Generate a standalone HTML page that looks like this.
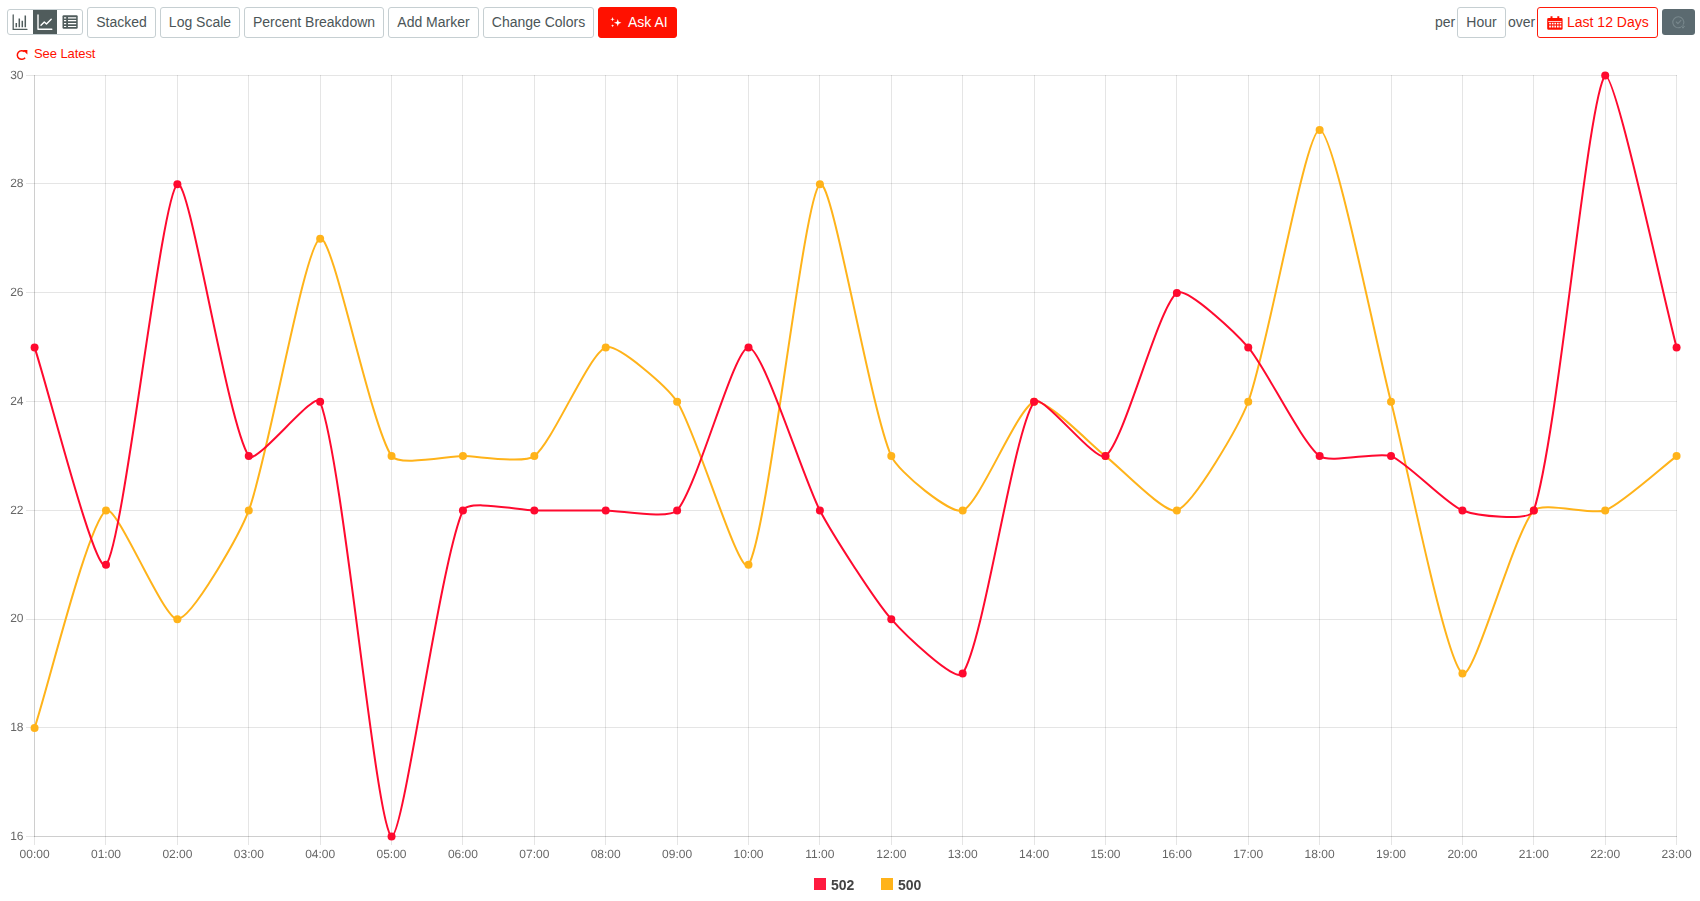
<!DOCTYPE html>
<html><head><meta charset="utf-8"><title>Chart</title>
<style>
*{box-sizing:border-box;margin:0;padding:0}
html,body{width:1700px;height:901px;overflow:hidden;background:#fff}
body{font-family:"Liberation Sans",sans-serif;position:relative;color:#4b5557}
.btn{position:absolute;top:7px;height:31px;border:1px solid #c6cfd2;border-radius:3px;background:#fff;font-size:14px;line-height:29px;text-align:center;color:#4b5557;white-space:nowrap}
.btn span{display:inline-block}
.grp{position:absolute;left:7px;top:9px;width:76px;height:26px;border:1px solid #c6cfd2;border-radius:3px;background:#fff;overflow:hidden}
.grp .act{position:absolute;left:25px;top:-1px;width:24px;height:26px;background:#505c5c}
.grp svg{position:absolute;top:0;left:0}
.ask{background:#ff1100;border-color:#ff1100;color:#fff}
.last{border-color:#ff1a0a;color:#ff1100}
.txt{position:absolute;top:7px;line-height:31px;font-size:14px;color:#4b5557}
.gray{position:absolute;left:1662px;top:9px;width:33px;height:26px;border-radius:3px;background:#5b6a70}
.see{position:absolute;left:34px;top:46px;font-size:13px;line-height:16px;color:#ff1100;white-space:nowrap;letter-spacing:-0.08px}
.chart{position:absolute;left:0;top:60px;will-change:transform}
.leg{position:absolute;top:877px;font-size:14px;font-weight:bold;line-height:17px;color:#444}
.sw{position:absolute;top:878px;width:12px;height:12px}
</style></head><body>
<div class="grp"><div class="act"></div>
<svg width="76" height="26" viewBox="0 0 76 26" fill="none">
<g stroke="#505c5c" stroke-width="1.3" stroke-linecap="round"><path d="M5.200 5v14.300h13.800"/></g><g stroke="#505c5c" stroke-width="1.500" stroke-linecap="butt"><path d="M8.300 17.300v-4.200M11.300 17.300V8.500M14.300 17.300v-6.500M17.300 17.300V5.500"/></g>
<g stroke="#fff" stroke-width="1.400" stroke-linecap="round" stroke-linejoin="round"><path d="M30 5v14.300h13.800"/><path d="M33 15.300l3.300-3.300 2.200 2 4.700-4.700"/></g>
<rect x="54.500" y="5.200" width="15.200" height="13.600" rx="1.200" fill="#505c5c"/>
<g stroke="#fff" stroke-width="1.200"><path d="M56 7.800h2.200M60 7.800h8.200M56 10.700h2.200M60 10.700h8.200M56 13.600h2.200M60 13.600h8.200M56 16.500h2.200M60 16.500h8.200"/></g>
</svg></div>
<div class="btn" style="left:87px;width:69px"><span>Stacked</span></div>
<div class="btn" style="left:160px;width:80px"><span>Log Scale</span></div>
<div class="btn" style="left:244px;width:140px"><span>Percent Breakdown</span></div>
<div class="btn" style="left:388px;width:91px"><span>Add Marker</span></div>
<div class="btn" style="left:483px;width:111px"><span>Change Colors</span></div>
<div class="btn ask" style="left:598px;width:79px;text-align:left;padding-left:29px"><span>Ask AI</span>
<svg style="position:absolute;left:10px;top:6px" width="14" height="14" viewBox="0 0 14 14" fill="#fff"><path d="M8.750 5L9.650 7.850 12.500 8.750 9.650 9.650 8.750 12.500 7.850 9.650 5 8.750 7.850 7.850zM3.500 3L4.050 4.700 5.750 5.250 4.050 5.800 3.500 7.500 2.950 5.800 1.250 5.250 2.950 4.700zM3.600 10.250L4 11.350 5.100 11.750 4 12.150 3.600 13.250 3.200 12.150 2.100 11.750 3.200 11.350z"/></svg></div>
<div class="txt" style="left:1435px">per</div>
<div class="btn" style="left:1457px;width:49px"><span>Hour</span></div>
<div class="txt" style="left:1508px">over</div>
<div class="btn last" style="left:1537px;width:121px;text-align:left;padding-left:29px"><span>Last 12 Days</span>
<svg style="position:absolute;left:9px;top:8px" width="16" height="14" viewBox="0 0 16 14"><path fill="#ff1100" d="M.2 3.300a1.300 1.300 0 0 1 1.300-1.300H3.500V.3h2V2h4.800V.3h2V2h2a1.300 1.300 0 0 1 1.300 1.300V12.500a1.300 1.300 0 0 1-1.300 1.300H1.500a1.300 1.300 0 0 1-1.300-1.300z"/><g fill="#fff"><rect x="1.300" y="5" width="13.200" height=".8"/><rect x="2.200" y="6.800" width="1.700" height="1.600"/><rect x="4.800" y="6.800" width="1.700" height="1.600"/><rect x="7.400" y="6.800" width="1.700" height="1.600"/><rect x="10" y="6.800" width="1.700" height="1.600"/><rect x="12.600" y="6.800" width="1.700" height="1.600"/><rect x="2.200" y="9.600" width="1.700" height="1.900"/><rect x="4.800" y="9.600" width="1.700" height="1.900"/><rect x="7.400" y="9.600" width="1.700" height="1.900"/><rect x="10" y="9.600" width="1.700" height="1.900"/><rect x="12.600" y="9.600" width="1.700" height="1.900"/></g></svg></div>
<div class="gray"><svg width="33" height="26" viewBox="0 0 33 26" fill="none" stroke="#78878c" stroke-width="1.1" stroke-linecap="round" stroke-linejoin="round"><path d="M21.500 15a5.500 5.500 0 1 0-3 3.300"/><path d="M14.300 13l1.600 1.600 3-3.200"/><path d="M19.500 17.500l1.500 1.500 1.500-1.500M21 19v-3" stroke-width="1"/></svg></div>
<div class="see"><svg style="position:absolute;left:-18px;top:3px" width="12" height="12" viewBox="0 0 12 12" fill="none"><path d="M8.600 2.800A4.350 4.350 0 1 0 9.100 8.700" stroke="#ff1100" stroke-width="1.500" stroke-linecap="butt"/><path d="M6.900 1.100H11.400V5.600z" fill="#ff1100"/></svg>See Latest</div>
<svg class="chart" width="1700" height="841" viewBox="0 60 1700 841">
<g shape-rendering="crispEdges"><rect x="34" y="75" width="1" height="770" fill="#000" fill-opacity="0.1"/><rect x="105" y="75" width="1" height="770" fill="#000" fill-opacity="0.1"/><rect x="177" y="75" width="1" height="770" fill="#000" fill-opacity="0.1"/><rect x="248" y="75" width="1" height="770" fill="#000" fill-opacity="0.1"/><rect x="320" y="75" width="1" height="770" fill="#000" fill-opacity="0.1"/><rect x="391" y="75" width="1" height="770" fill="#000" fill-opacity="0.1"/><rect x="462" y="75" width="1" height="770" fill="#000" fill-opacity="0.1"/><rect x="534" y="75" width="1" height="770" fill="#000" fill-opacity="0.1"/><rect x="605" y="75" width="1" height="770" fill="#000" fill-opacity="0.1"/><rect x="677" y="75" width="1" height="770" fill="#000" fill-opacity="0.1"/><rect x="748" y="75" width="1" height="770" fill="#000" fill-opacity="0.1"/><rect x="819" y="75" width="1" height="770" fill="#000" fill-opacity="0.1"/><rect x="891" y="75" width="1" height="770" fill="#000" fill-opacity="0.1"/><rect x="962" y="75" width="1" height="770" fill="#000" fill-opacity="0.1"/><rect x="1034" y="75" width="1" height="770" fill="#000" fill-opacity="0.1"/><rect x="1105" y="75" width="1" height="770" fill="#000" fill-opacity="0.1"/><rect x="1176" y="75" width="1" height="770" fill="#000" fill-opacity="0.1"/><rect x="1248" y="75" width="1" height="770" fill="#000" fill-opacity="0.1"/><rect x="1319" y="75" width="1" height="770" fill="#000" fill-opacity="0.1"/><rect x="1391" y="75" width="1" height="770" fill="#000" fill-opacity="0.1"/><rect x="1462" y="75" width="1" height="770" fill="#000" fill-opacity="0.1"/><rect x="1533" y="75" width="1" height="770" fill="#000" fill-opacity="0.1"/><rect x="1605" y="75" width="1" height="770" fill="#000" fill-opacity="0.1"/><rect x="1676" y="75" width="1" height="770" fill="#000" fill-opacity="0.1"/><rect x="26" y="75" width="1651" height="1" fill="#000" fill-opacity="0.1"/><rect x="26" y="183" width="1651" height="1" fill="#000" fill-opacity="0.1"/><rect x="26" y="292" width="1651" height="1" fill="#000" fill-opacity="0.1"/><rect x="26" y="401" width="1651" height="1" fill="#000" fill-opacity="0.1"/><rect x="26" y="510" width="1651" height="1" fill="#000" fill-opacity="0.1"/><rect x="26" y="619" width="1651" height="1" fill="#000" fill-opacity="0.1"/><rect x="26" y="727" width="1651" height="1" fill="#000" fill-opacity="0.1"/><rect x="26" y="836" width="1651" height="1" fill="#000" fill-opacity="0.1"/><rect x="34" y="75" width="1" height="762" fill="#000" fill-opacity="0.1"/><rect x="34" y="836" width="1643" height="1" fill="#000" fill-opacity="0.1"/></g>
<g font-family="Liberation Sans, sans-serif" font-size="12" fill="#666" text-rendering="geometricPrecision"><text x="23.5" y="79" text-anchor="end">30</text><text x="23.5" y="187" text-anchor="end">28</text><text x="23.5" y="296" text-anchor="end">26</text><text x="23.5" y="405" text-anchor="end">24</text><text x="23.5" y="514" text-anchor="end">22</text><text x="23.5" y="622" text-anchor="end">20</text><text x="23.5" y="731" text-anchor="end">18</text><text x="23.5" y="840" text-anchor="end">16</text><text x="34.6" y="858" text-anchor="middle">00:00</text><text x="106.0" y="858" text-anchor="middle">01:00</text><text x="177.4" y="858" text-anchor="middle">02:00</text><text x="248.8" y="858" text-anchor="middle">03:00</text><text x="320.2" y="858" text-anchor="middle">04:00</text><text x="391.5" y="858" text-anchor="middle">05:00</text><text x="462.9" y="858" text-anchor="middle">06:00</text><text x="534.3" y="858" text-anchor="middle">07:00</text><text x="605.7" y="858" text-anchor="middle">08:00</text><text x="677.1" y="858" text-anchor="middle">09:00</text><text x="748.5" y="858" text-anchor="middle">10:00</text><text x="819.9" y="858" text-anchor="middle">11:00</text><text x="891.3" y="858" text-anchor="middle">12:00</text><text x="962.7" y="858" text-anchor="middle">13:00</text><text x="1034.1" y="858" text-anchor="middle">14:00</text><text x="1105.5" y="858" text-anchor="middle">15:00</text><text x="1176.9" y="858" text-anchor="middle">16:00</text><text x="1248.2" y="858" text-anchor="middle">17:00</text><text x="1319.6" y="858" text-anchor="middle">18:00</text><text x="1391.0" y="858" text-anchor="middle">19:00</text><text x="1462.4" y="858" text-anchor="middle">20:00</text><text x="1533.8" y="858" text-anchor="middle">21:00</text><text x="1605.2" y="858" text-anchor="middle">22:00</text><text x="1676.6" y="858" text-anchor="middle">23:00</text></g>
<path d="M34.59 727.89 C48.87 684.40 87.77 524.32 105.98 510.46 C116.33 502.58 163.09 619.17 177.37 619.17 C191.65 619.17 239.73 534.53 248.76 510.46 C268.29 458.43 304.42 244.66 320.16 238.67 C332.97 233.79 369.78 422.95 391.55 456.10 C398.34 466.44 448.66 456.10 462.94 456.10 C477.22 456.10 524.21 463.81 534.33 456.10 C552.77 442.06 588.82 353.82 605.72 347.39 C617.38 342.95 667.54 387.17 677.11 401.74 C696.10 430.66 739.51 578.51 748.50 564.81 C768.06 535.03 803.35 196.91 819.89 184.31 C831.90 175.17 869.64 406.66 891.29 456.10 C898.20 471.89 951.02 514.90 962.68 510.46 C979.58 504.02 1017.17 408.18 1034.07 401.74 C1045.73 397.30 1091.18 445.23 1105.46 456.10 C1119.74 466.97 1165.19 514.90 1176.85 510.46 C1193.75 504.02 1239.21 425.82 1248.24 401.74 C1267.76 349.72 1305.36 129.96 1319.63 129.96 C1333.91 129.96 1376.75 347.39 1391.02 401.74 C1405.30 456.10 1444.93 660.22 1462.42 673.53 C1473.49 681.96 1513.43 533.74 1533.81 510.46 C1541.98 501.12 1592.55 515.27 1605.20 510.46 C1621.10 504.40 1662.31 466.97 1676.59 456.10" fill="none" stroke="#ffb31a" stroke-width="2" stroke-linejoin="miter"/>
<g fill="#ffb31a"><circle cx="34.59" cy="727.89" r="4"/><circle cx="105.98" cy="510.46" r="4"/><circle cx="177.37" cy="619.17" r="4"/><circle cx="248.76" cy="510.46" r="4"/><circle cx="320.16" cy="238.67" r="4"/><circle cx="391.55" cy="456.10" r="4"/><circle cx="462.94" cy="456.10" r="4"/><circle cx="534.33" cy="456.10" r="4"/><circle cx="605.72" cy="347.39" r="4"/><circle cx="677.11" cy="401.74" r="4"/><circle cx="748.50" cy="564.81" r="4"/><circle cx="819.89" cy="184.31" r="4"/><circle cx="891.29" cy="456.10" r="4"/><circle cx="962.68" cy="510.46" r="4"/><circle cx="1034.07" cy="401.74" r="4"/><circle cx="1105.46" cy="456.10" r="4"/><circle cx="1176.85" cy="510.46" r="4"/><circle cx="1248.24" cy="401.74" r="4"/><circle cx="1319.63" cy="129.96" r="4"/><circle cx="1391.02" cy="401.74" r="4"/><circle cx="1462.42" cy="673.53" r="4"/><circle cx="1533.81" cy="510.46" r="4"/><circle cx="1605.20" cy="510.46" r="4"/><circle cx="1676.59" cy="456.10" r="4"/></g>
<path d="M34.59 347.39 C48.87 390.87 95.37 576.93 105.98 564.81 C123.93 544.32 160.83 196.91 177.37 184.31 C189.38 175.17 227.12 423.14 248.76 456.10 C255.68 466.62 315.32 388.87 320.16 401.74 C343.88 464.97 375.30 824.23 391.55 836.60 C403.86 836.60 439.41 564.19 462.94 510.46 C467.97 498.97 520.05 510.46 534.33 510.46 C548.61 510.46 591.44 510.46 605.72 510.46 C620.00 510.46 668.94 519.79 677.11 510.46 C697.49 487.18 734.22 347.39 748.50 347.39 C762.78 347.39 803.39 479.05 819.89 510.46 C831.95 533.41 874.39 599.87 891.29 619.17 C902.94 632.49 955.77 684.05 962.68 673.53 C984.32 640.57 1012.42 434.70 1034.07 401.74 C1040.98 391.22 1095.89 463.39 1105.46 456.10 C1124.45 441.64 1157.86 307.48 1176.85 293.03 C1186.42 285.74 1236.58 334.07 1248.24 347.39 C1265.14 366.69 1301.20 442.06 1319.63 456.10 C1329.75 463.81 1378.37 451.28 1391.02 456.10 C1406.93 462.15 1446.51 504.40 1462.42 510.46 C1475.07 515.27 1529.83 522.58 1533.81 510.46 C1558.38 435.61 1587.76 95.52 1605.20 75.60 C1616.32 75.60 1662.31 293.03 1676.59 347.39" fill="none" stroke="#ff0a2f" stroke-width="2" stroke-linejoin="miter"/>
<g fill="#ff0a2f"><circle cx="34.59" cy="347.39" r="4"/><circle cx="105.98" cy="564.81" r="4"/><circle cx="177.37" cy="184.31" r="4"/><circle cx="248.76" cy="456.10" r="4"/><circle cx="320.16" cy="401.74" r="4"/><circle cx="391.55" cy="836.60" r="4"/><circle cx="462.94" cy="510.46" r="4"/><circle cx="534.33" cy="510.46" r="4"/><circle cx="605.72" cy="510.46" r="4"/><circle cx="677.11" cy="510.46" r="4"/><circle cx="748.50" cy="347.39" r="4"/><circle cx="819.89" cy="510.46" r="4"/><circle cx="891.29" cy="619.17" r="4"/><circle cx="962.68" cy="673.53" r="4"/><circle cx="1034.07" cy="401.74" r="4"/><circle cx="1105.46" cy="456.10" r="4"/><circle cx="1176.85" cy="293.03" r="4"/><circle cx="1248.24" cy="347.39" r="4"/><circle cx="1319.63" cy="456.10" r="4"/><circle cx="1391.02" cy="456.10" r="4"/><circle cx="1462.42" cy="510.46" r="4"/><circle cx="1533.81" cy="510.46" r="4"/><circle cx="1605.20" cy="75.60" r="4"/><circle cx="1676.59" cy="347.39" r="4"/></g>
</svg>
<div class="sw" style="left:814px;background:#ff1a3f"></div><div class="leg" style="left:831px">502</div>
<div class="sw" style="left:881px;background:#ffb31a"></div><div class="leg" style="left:898px">500</div>
</body></html>
